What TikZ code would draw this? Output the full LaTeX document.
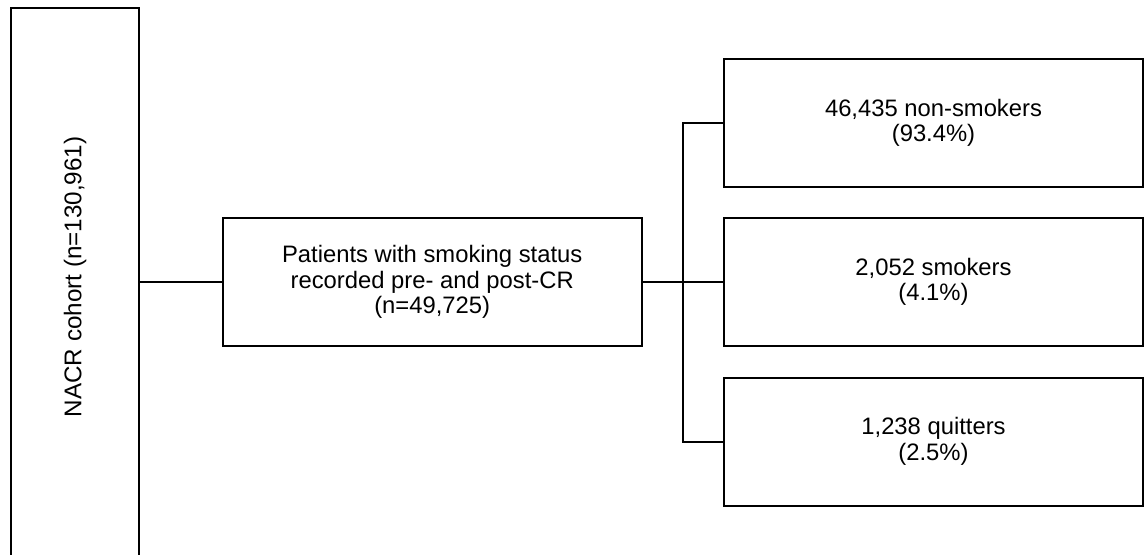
\documentclass[tikz,border=0pt]{standalone}
\usepackage{fontspec}
\setmainfont{Liberation Sans}
\begin{document}
\begin{tikzpicture}[x=1pt,y=-1pt,
  flowbox/.style={draw=black, line width=2pt, minimum width=419pt, minimum height=128pt,
    inner sep=0pt, align=center, font=\fontsize{23.8}{25.5}\selectfont},
  link/.style={draw=black, line width=2pt}]
  \useasboundingbox (0,0) rectangle (1145,554);
  \clip (0,0) rectangle (1145,554);

  % tall cohort column, running off the lower edge
  \node[draw=black, line width=2pt, minimum width=127.7pt, minimum height=560pt, inner sep=0pt]
    (cohort) at (74.85,288.3) {};
  \node[rotate=90, font=\fontsize{24.2}{25.5}\selectfont] (cohortlabel) at (75,277) {NACR cohort (n=130,961)};

  % recorded smoking status
  \node[flowbox] (mid) at (432.2,282) {Patients with smoking status\\recorded pre- and post-CR\\(n=49,725)};

  % outcome groups
  \node[flowbox] (nonsmk) at (933.5,123) {46,435 non-smokers\\(93.4\%)};
  \node[flowbox] (smk) at (933.5,282) {2,052 smokers\\(4.1\%)};
  \node[flowbox] (quit) at (933.5,441.5) {1,238 quitters\\(2.5\%)};

  \coordinate (bus) at (683,282);

  % connectors
  \draw[link] (cohort.east |- mid.west) -- (mid.west);
  \draw[link] (mid.east) -- (smk.west);
  \draw[link] (nonsmk.west) -| (bus) |- (quit.west);
\end{tikzpicture}
\end{document}
